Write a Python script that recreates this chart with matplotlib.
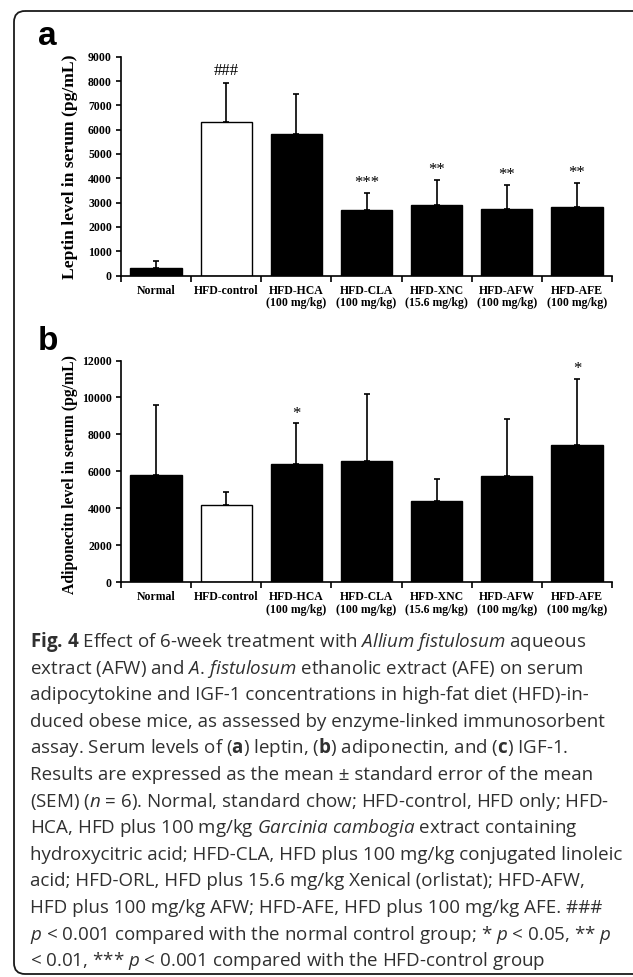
import numpy as np
import matplotlib.pyplot as plt
from matplotlib.patches import FancyBboxPatch

plt.rcParams['mathtext.fontset'] = 'custom'
plt.rcParams['mathtext.rm'] = 'Open Sans'
plt.rcParams['mathtext.it'] = 'Open Sans:italic'
plt.rcParams['mathtext.bf'] = 'Open Sans:bold'

groups = ['Normal', 'HFD-control', 'HFD-HCA\n(100 mg/kg)', 'HFD-CLA\n(100 mg/kg)',
          'HFD-XNC\n(15.6 mg/kg)', 'HFD-AFW\n(100 mg/kg)', 'HFD-AFE\n(100 mg/kg)']
bar_fill = ['black', 'white', 'black', 'black', 'black', 'black', 'black']

# (a) leptin
leptin = [290, 6310, 5810, 2680, 2900, 2750, 2820]
leptin_sem = [290, 1590, 1640, 730, 1030, 990, 990]
leptin_sig = ['', '###', '', '***', '**', '**', '**']

# (b) adiponectin
adipo = [5790, 4180, 6400, 6550, 4400, 5740, 7450]
adipo_sem = [3790, 710, 2210, 3640, 1210, 3120, 3560]
adipo_sig = ['', '', '*', '', '', '', '*']

# mathtext puts extra space after '.', \! takes it back
caption = [
    r'$\mathbf{Fig.}\!$ $\mathbf{4}$ Effect of 6-week treatment with $\mathit{Allium}$ $\mathit{fistulosum}$ aqueous',
    r'extract (AFW) and $\mathit{A.}\!$ $\mathit{fistulosum}$ ethanolic extract (AFE) on serum',
    'adipocytokine and IGF-1 concentrations in high-fat diet (HFD)-in-',
    'duced obese mice, as assessed by enzyme-linked immunosorbent',
    r'assay. Serum levels of ($\mathbf{a}$) leptin, ($\mathbf{b}$) adiponectin, and ($\mathbf{c}$) IGF-1.',
    'Results are expressed as the mean ± standard error of the mean',
    r'(SEM) ($\mathit{n}$ = 6). Normal, standard chow; HFD-control, HFD only; HFD-',
    r'HCA, HFD plus 100 mg/kg $\mathit{Garcinia}$ $\mathit{cambogia}$ extract containing',
    'hydroxycitric acid; HFD-CLA, HFD plus 100 mg/kg conjugated linoleic',
    'acid; HFD-ORL, HFD plus 15.6 mg/kg Xenical (orlistat); HFD-AFW,',
    'HFD plus 100 mg/kg AFW; HFD-AFE, HFD plus 100 mg/kg AFE. ###',
    r'$\mathit{p}$ < 0.001 compared with the normal control group; * $\mathit{p}$ < 0.05, ** $\mathit{p}$',
    r'< 0.01, *** $\mathit{p}$ < 0.001 compared with the HFD-control group',
]

W, H = 633, 977
fig = plt.figure(figsize=(W / 100, H / 100), dpi=100)

# overlay in pixel units for frame, panel letters and caption
bg = fig.add_axes([0, 0, 1, 1], zorder=0)
bg.set_xlim(0, W)
bg.set_ylim(H, 0)
bg.set_axis_off()
bg.add_patch(FancyBboxPatch((14, 11), 680, 963, boxstyle='round,pad=0,rounding_size=11',
                            fc='none', ec='#1a1a1a', lw=1.3))
bg.text(38, 45, 'a', fontsize=24, fontweight='bold', family='Liberation Sans', va='baseline')
bg.text(38, 350, 'b', fontsize=24, fontweight='bold', family='Liberation Sans', va='baseline')
for k, line in enumerate(caption):
    bg.text(30.5, 647 + 26.6 * k, line, fontsize=13.5, family='Open Sans',
            color='#303030', va='baseline', ha='left')


def px_axes(x0, x1, ytop, ybot):
    return fig.add_axes([x0 / W, 1 - ybot / H, (x1 - x0) / W, (ybot - ytop) / H], zorder=1)


def panel(ax, vals, sem, sig, ymax, ystep, ylabel, label_size, label_y):
    x = np.arange(len(vals))
    ax.bar(x, vals, width=0.73, color=bar_fill, edgecolor='black', linewidth=1.0,
           yerr=[np.zeros(len(vals)), sem],
           error_kw=dict(ecolor='black', elinewidth=1.2, capsize=2, capthick=1.2))
    for i, s in enumerate(sig):
        if s:
            off = 6 if s.startswith('#') else 4
            ax.annotate(s, xy=(i, vals[i] + sem[i]), xytext=(0, off), textcoords='offset points',
                        ha='center', va='baseline', fontsize=12, family='Liberation Serif')
    ax.set_xlim(-0.5, len(vals) - 0.5)
    ax.set_ylim(0, ymax)
    ax.set_yticks(np.arange(0, ymax + 1, ystep))
    ax.set_xticks(x)
    ax.set_xticklabels(groups, fontsize=8.5, fontweight='bold', family='Liberation Serif',
                       linespacing=1.1)
    ax.set_xticks(np.arange(-0.5, len(vals)), minor=True)
    ax.tick_params(axis='x', which='major', length=0, pad=6.5)
    ax.tick_params(axis='x', which='minor', length=4, width=1.2, direction='out')
    ax.tick_params(axis='y', length=3.5, width=1.2, direction='out', pad=3)
    for t in ax.get_yticklabels():
        t.set_fontsize(8.5)
        t.set_fontweight('bold')
        t.set_family('Liberation Serif')
    for side in ['top', 'right']:
        ax.spines[side].set_visible(False)
    for side in ['left', 'bottom']:
        ax.spines[side].set_linewidth(1.2)
    fig.text(70 / W, 1 - label_y / H, ylabel, rotation=90, ha='center', va='center',
             fontsize=label_size, fontweight='bold', family='Liberation Serif')


ax_a = px_axes(121, 612, 56.7, 275.5)
panel(ax_a, leptin, leptin_sem, leptin_sig, 9000, 1000,
      'Leptin level in serum (pg/mL)', 12.6, 167)

ax_b = px_axes(121, 612, 360.5, 582.3)
panel(ax_b, adipo, adipo_sem, adipo_sig, 12000, 2000,
      'Adiponecitn level in serum (pg/mL)', 11.3, 475)

fig.savefig('out.png', dpi=100)
